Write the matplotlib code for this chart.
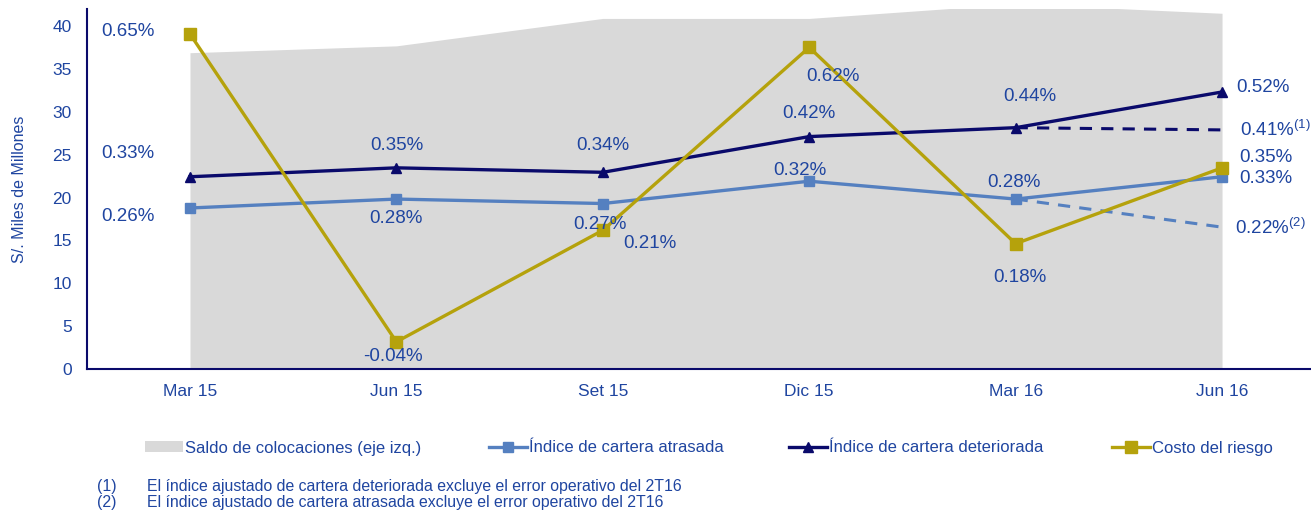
import matplotlib
matplotlib.use("Agg")
import matplotlib.pyplot as plt
from matplotlib.patches import Patch
from matplotlib.lines import Line2D

# ---- data ----
categories = ["Mar 15", "Jun 15", "Set 15", "Dic 15", "Mar 16", "Jun 16"]
saldo = [36.9, 37.7, 40.9, 40.9, 42.6, 41.5]          # S/. miles de millones
atrasada = [0.26, 0.28, 0.27, 0.32, 0.28, 0.33]        # %
deteriorada = [0.33, 0.35, 0.34, 0.42, 0.44, 0.52]     # %
costo = [0.65, -0.04, 0.21, 0.62, 0.18, 0.35]          # %
atrasada_ajustada = [0.28, 0.217]                       # dashed line, Mar 16 -> Jun 16
deteriorada_ajustada = [0.44, 0.435]                    # dashed line as drawn, Mar 16 -> Jun 16
ajustado_labels = ["0.41%", "0.22%"]                    # labels of the adjusted indices
yticks_left = [0, 5, 10, 15, 20, 25, 30, 35, 40]
legend_labels = ["Saldo de colocaciones (eje izq.)", "Índice de cartera atrasada",
                 "Índice de cartera deteriorada", "Costo del riesgo"]
footnotes = ["El índice ajustado de cartera deteriorada excluye el error operativo del 2T16",
             "El índice ajustado de cartera atrasada excluye el error operativo del 2T16"]

# ---- style ----
plt.rcParams['font.family'] = ['Liberation Sans', 'DejaVu Sans']
plt.rcParams['mathtext.fontset'] = 'custom'
plt.rcParams['mathtext.rm'] = 'Liberation Sans'
TXT = "#1f45a0"
GRAY = "#d9d9d9"
LBLUE = "#5580c0"
NAVY = "#0a0a6b"
OLIVE = "#b5a20c"

fig = plt.figure(figsize=(13.11, 5.12), dpi=100)
ax = fig.add_axes([87/1311, (512-369)/512, (1311-87)/1311, 360/512])
x = list(range(len(categories)))

ax.fill_between(x, saldo, 0, color=GRAY, lw=0, zorder=1)
ax.set_xlim(-0.499, 5.431)
ax.set_ylim(0, 42)
ax.set_yticks(yticks_left)
ax.set_xticks(x)
ax.set_xticklabels(categories)
ax.tick_params(axis='both', length=0, labelsize=12.5, colors=TXT)
ax.tick_params(axis='y', pad=11)
ax.tick_params(axis='x', pad=11)
for s in ['top', 'right']:
    ax.spines[s].set_visible(False)
for s in ['left', 'bottom']:
    ax.spines[s].set_color(NAVY)
    ax.spines[s].set_linewidth(1.5)
ax.set_ylabel("S/. Miles de Millones", color=TXT, fontsize=11.5, labelpad=18)

ax2 = ax.twinx()
ax2.set_ylim(-0.1009, 0.706)
ax2.axis('off')

ax2.plot(x, atrasada, color=LBLUE, lw=2.4, marker='s', ms=7.5, zorder=3)
ax2.plot(x[4:6], atrasada_ajustada, color=LBLUE, lw=2.2, ls=(0, (4, 3)), zorder=3)
ax2.plot(x, deteriorada, color=NAVY, lw=2.4, marker='^', ms=7, zorder=4)
ax2.plot(x[4:6], deteriorada_ajustada, color=NAVY, lw=2.2, ls=(0, (4, 3)), zorder=4)
ax2.plot(x, costo, color=OLIVE, lw=2.4, marker='s', ms=8, zorder=5)

def fmt(v):
    return f"{v:.2f}%"

fs = 13.5
# label positions (x in category units, y in % axis)
pos_atr = [(-0.30, 0.242), (1.0, 0.237), (1.986, 0.224), (2.955, 0.345), (3.99, 0.318), (5.21, 0.327)]
pos_det = [(-0.30, 0.383), (1.0, 0.399), (2.0, 0.399), (3.0, 0.471), (4.07, 0.509), (5.20, 0.529)]
pos_cos = [(-0.30, 0.6545), (0.985, -0.074), (2.23, 0.181), (3.115, 0.554), (4.02, 0.105), (5.21, 0.374)]
for vals, poss in [(atrasada, pos_atr), (deteriorada, pos_det), (costo, pos_cos)]:
    for v, (px, py) in zip(vals, poss):
        ax2.text(px, py, fmt(v), ha='center', va='center', fontsize=fs, color=TXT, zorder=6)

ax2.text(5.087, 0.435, ajustado_labels[0] + r"$^{\mathrm{(1)}}$", ha='left', va='center',
         fontsize=fs, color=TXT, clip_on=False)
ax2.text(5.063, 0.217, ajustado_labels[1] + r"$^{\mathrm{(2)}}$", ha='left', va='center',
         fontsize=fs, color=TXT, clip_on=False)

handles = [Patch(facecolor=GRAY, edgecolor='none'),
           Line2D([], [], color=LBLUE, lw=2.4, marker='s', ms=7.5),
           Line2D([], [], color=NAVY, lw=2.4, marker='^', ms=7),
           Line2D([], [], color=OLIVE, lw=2.4, marker='s', ms=8)]
legend_x = [145, 489, 789, 1112]
for h, lab, lx in zip(handles, legend_labels, legend_x):
    fig.legend([h], [lab], loc='center left', bbox_to_anchor=(lx/1311, 1-448/512),
               frameon=False, fontsize=12, labelcolor=TXT, handlelength=2.3, handletextpad=0.1,
               handleheight=0.6, borderpad=0, borderaxespad=0)

for i, t in enumerate(footnotes):
    yy = 1 - (486 + 17*i)/512
    fig.text(97/1311, yy, f"({i+1})", fontsize=11.4, color=TXT, va='center', ha='left')
    fig.text(147/1311, yy, t, fontsize=11.4, color=TXT, va='center', ha='left')

fig.savefig("out.png", dpi=100)
